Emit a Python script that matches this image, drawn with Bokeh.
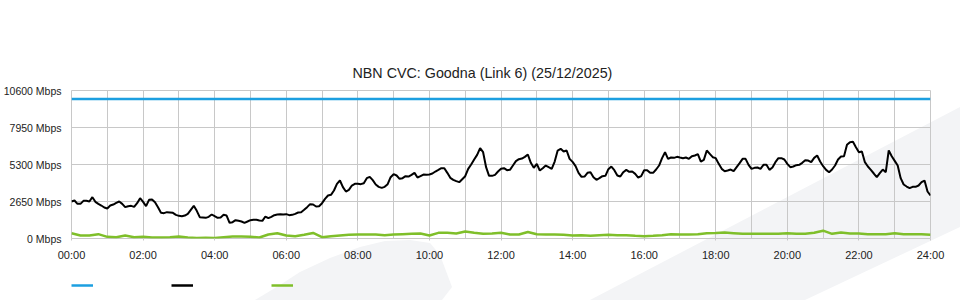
from bokeh.plotting import figure
from bokeh.layouts import column
from bokeh.models import FixedTicker, Legend, LegendItem, Range1d
from bokeh.embed import file_html
from bokeh.resources import INLINE

# ---- data (Mbps) ----
# total traffic, one value every 5 minutes, 00:00 .. 24:00
traffic = [
    2650, 2721, 2482, 2482, 2697, 2697, 2650, 2960, 2626, 2482, 2363, 2220, 2148, 2363, 2435, 2554, 2650, 2482, 2244, 2315, 2339, 2268, 2530, 2888,
    2626, 2315, 2769, 2793, 2602, 2244, 1838, 1814, 1886, 1862, 1838, 1695, 1623, 1599, 1647, 1766, 2053, 2339, 1981, 1528, 1504, 1480, 1552, 1719,
    1599, 1480, 1504, 1695, 1647, 1122, 1170, 1313, 1265, 1217, 1122, 1217, 1313, 1337, 1337, 1289, 1265, 1575, 1456, 1552, 1671, 1719, 1743, 1719,
    1743, 1671, 1695, 1766, 1862, 1886, 2053, 2244, 2459, 2435, 2292, 2315, 2530, 2841, 3079, 3127, 3437, 3915, 4153, 3676, 3366, 3485, 3795, 3915,
    3915, 3891, 3962, 4320, 4416, 4177, 3867, 3700, 3628, 3700, 3891, 4392, 4607, 4511, 4273, 4320, 4464, 4440, 4559, 4702, 4368, 4464, 4583, 4559,
    4583, 4655, 4798, 4917, 5037, 5037, 4702, 4344, 4201, 4106, 4034, 4249, 4464, 4989, 5299, 5657, 5991, 6469, 6182, 5108, 4488, 4488, 4559, 4798,
    4989, 5037, 4893, 4917, 5228, 5538, 5681, 5729, 5848, 6015, 5418, 5060, 5347, 4869, 5037, 5228, 5108, 4989, 5514, 6302, 6421, 6230, 6302, 5705,
    5490, 5180, 4702, 4416, 4440, 4702, 4750, 4392, 4201, 4320, 4464, 4488, 4965, 5156, 4893, 4511, 4440, 4750, 4917, 4774, 4798, 4631, 4368, 4464,
    4893, 4893, 4702, 4702, 4941, 5228, 5753, 6182, 5705, 5800, 5777, 5848, 5800, 5753, 5800, 5705, 5896, 5944, 6039, 5514, 5633, 6300, 6063, 5824,
    5753, 5347, 4989, 4822, 4869, 4941, 4822, 5108, 5395, 5705, 5705, 5275, 4989, 5060, 5084, 4989, 5275, 5275, 4917, 5084, 5466, 5753, 5753, 5657,
    5347, 5108, 5156, 5251, 5275, 5418, 5609, 5585, 5466, 5777, 5944, 5514, 5180, 4917, 4750, 4941, 5228, 5657, 5872, 5896, 6707, 6898, 6922, 6540,
    6182, 6230, 5466, 5156, 4917, 4655, 4392, 4679, 4941, 4750, 6302, 5896, 5562, 5228, 4320, 3867, 3724, 3604, 3700, 3700, 3795, 4034, 4153, 3366,
    3079,
]
# second (green) series, one value every 15 minutes
second = [
    380, 215, 215, 310, 120, 95, 215, 95,
    120, 72, 72, 95, 143, 72, 30, 48,
    30, 95, 143, 143, 120, 72, 290, 380,
    215, 167, 263, 400, 95, 167, 215, 263,
    286, 286, 286, 240, 286, 310, 334, 358,
    215, 406, 406, 358, 501, 406, 334, 358,
    406, 286, 286, 470, 300, 286, 286, 263,
    215, 240, 190, 240, 263, 240, 240, 190,
    167, 190, 240, 310, 286, 286, 310, 382,
    400, 430, 382, 334, 334, 334, 334, 334,
    382, 334, 334, 406, 560, 334, 430, 358,
    358, 310, 310, 310, 382, 310, 310, 310,
    263,
]
capacity = [10000, 10000]
capacity_hours = [0, 24]

traffic_hours = [i * 5 / 60 for i in range(len(traffic))]
second_hours = [i * 15 / 60 for i in range(len(second))]

y_ticks = [0, 2650, 5300, 7950, 10600]
y_labels = ["0 Mbps", "2650 Mbps", "5300 Mbps", "7950 Mbps", "10600 Mbps"]
x_ticks = [0, 2, 4, 6, 8, 10, 12, 14, 16, 18, 20, 22, 24]
x_labels = ["00:00", "02:00", "04:00", "06:00", "08:00", "10:00", "12:00",
            "14:00", "16:00", "18:00", "20:00", "22:00", "24:00"]
grid_hours = list(range(25))

title = "NBN CVC: Goodna (Link 6) (25/12/2025)"

# ---- styling ----
FONT = "Liberation Sans"
GRID = "#c8c8c8"
BLUE = "#1c9fe0"
GREEN = "#7fbf2a"
SERIES_COLORS = [BLUE, "black", GREEN]

# faint page watermark (decorative background, page pixels)
WATERMARK_SVG = (
    "<svg xmlns='http://www.w3.org/2000/svg' width='960' height='300'>"
    "<polygon points='590,300 960,107 960,227 805,300' fill='%23f3f4f6'/>"
    "<polygon points='255,300 280,285 300,272 330,258 360,247 385,241 410,240 "
    "430,243 440,255 452,287 442,300' fill='%23f3f4f6'/>"
    "</svg>"
)
TEMPLATE = """{% block postamble %}
<style>
html, body { margin: 0; padding: 0; background-color: #ffffff;
  background-image: url("data:image/svg+xml;utf8,""" + WATERMARK_SVG + """");
  background-repeat: no-repeat; background-position: 0 0; }
</style>
{% endblock %}
"""

# ---- main chart ----
p = figure(width=960, height=270, output_backend="svg", toolbar_location=None,
           x_range=Range1d(0, 24), y_range=Range1d(0, 10600),
           min_border_left=70, min_border_right=30, min_border_top=90,
           min_border_bottom=32, title=title)

p.background_fill_color = None
p.border_fill_color = None
p.outline_line_color = GRID

p.title.align = "left"
p.title.offset = 281
p.title.text_font = FONT
p.title.text_font_size = "14.3px"
p.title.text_font_style = "normal"
p.title.text_color = "#222222"
p.title.standoff = 20

p.xgrid.ticker = FixedTicker(ticks=grid_hours)
p.ygrid.ticker = FixedTicker(ticks=y_ticks)
p.xgrid.grid_line_color = GRID
p.ygrid.grid_line_color = GRID

p.xaxis.ticker = FixedTicker(ticks=x_ticks)
p.xaxis.major_label_overrides = dict(zip(x_ticks, x_labels))
p.yaxis.ticker = FixedTicker(ticks=y_ticks)
p.yaxis.major_label_overrides = dict(zip(y_ticks, y_labels))
for ax in (p.xaxis[0], p.yaxis[0]):
    ax.axis_line_color = None
    ax.minor_tick_line_color = None
    ax.major_tick_in = 0
    ax.major_label_text_font = FONT
    ax.major_label_text_color = "#222222"
p.xaxis.major_label_text_font_size = "11px"
p.yaxis.major_label_text_font_size = "10.5px"
p.xaxis.major_tick_out = 2
p.xaxis.major_tick_line_color = GRID
p.xaxis.major_label_standoff = 8
p.yaxis.major_tick_out = 0
p.yaxis.major_tick_line_color = None
p.yaxis.major_label_standoff = 10

p.line(capacity_hours, capacity, line_color=SERIES_COLORS[0], line_width=2.5)
p.line(traffic_hours, traffic, line_color=SERIES_COLORS[1], line_width=2)
p.line(second_hours, second, line_color=SERIES_COLORS[2], line_width=2.5)

# ---- legend strip (swatches only, no labels) ----
lg = figure(width=960, height=30, output_backend="svg", toolbar_location=None,
            x_range=Range1d(0, 1), y_range=Range1d(0, 1),
            x_axis_type=None, y_axis_type=None,
            min_border_left=69, min_border_right=0, min_border_top=0,
            min_border_bottom=0)
lg.background_fill_color = None
lg.border_fill_color = None
lg.outline_line_color = None
lg.grid.visible = False
# proxy renderers lying outside the visible range: only their legend swatches show
swatches = [lg.line([5, 6], [5, 5], line_color=c, line_width=2.5) for c in SERIES_COLORS]

legend = Legend(items=[LegendItem(label=" ", renderers=[r]) for r in swatches],
                orientation="horizontal", location="left",
                glyph_width=22, glyph_height=20, label_height=20,
                label_standoff=0, label_width=78, spacing=0, padding=0,
                margin=0, border_line_color=None, background_fill_alpha=0)
lg.add_layout(legend, "center")

layout = column(p, lg, spacing=0)
open("out.html", "w").write(file_html(layout, INLINE, template=TEMPLATE))
